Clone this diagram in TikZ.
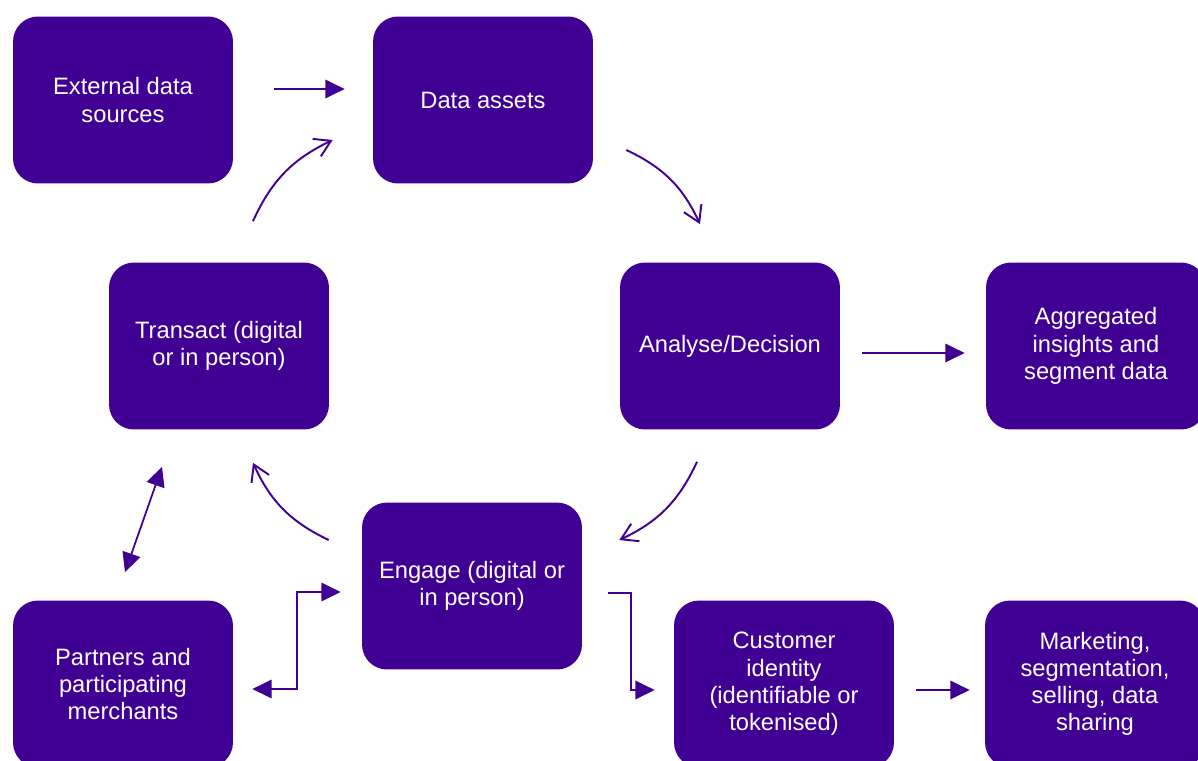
\documentclass[tikz,border=0pt]{standalone}
\usepackage{fontspec}
\setmainfont{Liberation Sans}
\usetikzlibrary{arrows.meta}
\usetikzlibrary{positioning}
\definecolor{mpurple}{RGB}{64, 0, 148}

\begin{document}
\begin{tikzpicture}[x=0.02cm, y=-0.02cm,
    box/.style={fill=mpurple, rounded corners=0.5cm, minimum width=4.4cm,
      minimum height=3.34cm, inner sep=0pt, text=white, align=center,
      font=\fontsize{13.5}{15.5}\selectfont},
    flow/.style={mpurple, line width=1pt, -{Triangle[length=11pt, width=10.5pt]}},
    twoway/.style={mpurple, line width=1pt,
      {Triangle[length=11pt, width=10.5pt]}-{Triangle[length=11pt, width=10.5pt]}},
    curl/.style={mpurple, line width=1.1pt, -{Straight Barb[length=9pt, width=11pt]}, bend left=20}]

    \useasboundingbox (0, 0) rectangle (1198, 761);

    % boxes
    \node [box] (ext) at (123, 100) {External data\\sources};
    \node [box] (data) at (483, 100) {Data assets};
    \node [box] (transact) at (219, 346) {Transact (digital\\or in person)};
    \node [box] (analyse) at (730, 346) {Analyse/Decision};
    \node [box] (agg) at (1096, 346) {Aggregated\\insights and\\segment data};
    \node [box] (engage) at (472, 586) {Engage (digital or\\in person)};
    \node [box] (partners) at (123, 684) {Partners and\\participating\\merchants};
    \node [box] (customer) at (784, 684) {Customer\\identity\\(identifiable or\\tokenised)};
    \node [box] (marketing) at (1095, 684) {Marketing,\\segmentation,\\selling, data\\sharing};

    % the cycle
    \draw [curl] ([shift={(33, 50)}]data.east) to ([shift={(-30, -38)}]analyse.north);
    \draw [curl] ([shift={(-33, 32)}]analyse.south) to ([shift={(37, -46)}]engage.east);
    \draw [curl] ([shift={(-33, -46)}]engage.west) to ([shift={(34, 33)}]transact.south);
    \draw [curl] ([shift={(34, -41)}]transact.north) to ([shift={(-40, 40)}]data.west);

    % straight links
    \draw [flow] ([shift={(41, -11)}]ext.east) -- ([shift={(-28, -11)}]data.west);
    \draw [flow] ([shift={(22, 7)}]analyse.east) -- ([shift={(-21, 7)}]agg.west);
    \draw [flow] ([shift={(22, 6)}]customer.east) -- ([shift={(-15, 6)}]marketing.west);
    \draw [twoway] ([shift={(-57, 37)}]transact.south) -- ([shift={(2, -28)}]partners.north);

    % elbows
    \draw [twoway] ([shift={(19, 5)}]partners.east) -- ++(45, 0) |- ([shift={(-21, 6)}]engage.west);
    \draw [flow] ([shift={(26, 7)}]engage.east) -- ++(23, 0) |- ([shift={(-19, 6)}]customer.west);

  \end{tikzpicture}
\end{document}
